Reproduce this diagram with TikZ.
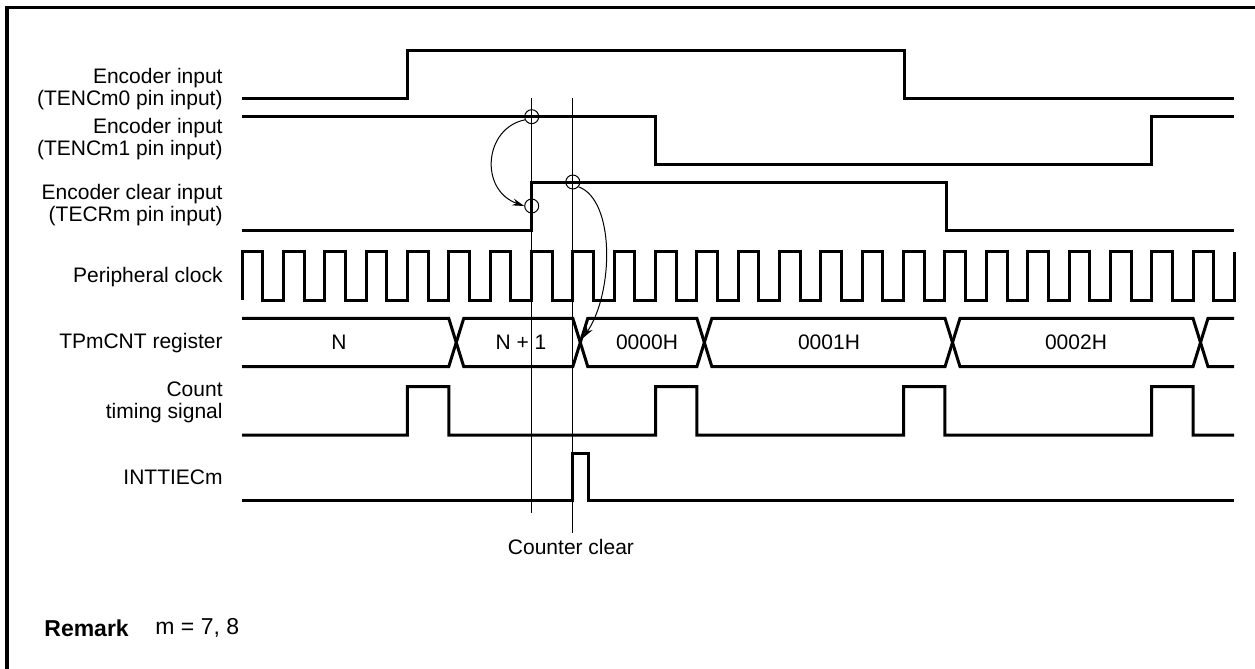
\documentclass[tikz,border=0pt]{standalone}
\usepackage{fontspec}
\setmainfont{Liberation Sans}
\usetikzlibrary{arrows.meta}

\begin{document}
\begin{tikzpicture}[x=0.5pt,y=-0.5pt,line join=miter,
  font=\fontsize{10.5}{11}\selectfont,
  wave/.style={line width=1.5pt},
  guide/.style={line width=0.5pt},
  ring/.style={circle,draw,line width=0.5pt,minimum size=7pt,inner sep=0pt},
  lbl/.style={anchor=east,align=right,inner sep=0pt},
  arr/.style={line width=0.5pt,-{Stealth[length=6pt,width=3.5pt]}}]
  \useasboundingbox (0,0) rectangle (1255,669);
  \draw[line width=1.8pt] (1255,7.5) -- (7,7.5) -- (7,669);

  \node[lbl] (l0) at (223,89.5) {Encoder input\\(TENCm0 pin input)};
  \node[lbl] (l1) at (223,139) {Encoder input\\(TENCm1 pin input)};
  \node[lbl] (l2) at (223,205) {Encoder clear input\\(TECRm pin input)};
  \node[lbl] (l3) at (223,277) {Peripheral clock};
  \node[lbl] (l4) at (223,343) {TPmCNT register};
  \node[lbl] (l5) at (223,402) {Count\\timing signal};
  \node[lbl] (l6) at (223,477) {INTTIECm};

  \draw[wave] (242,98) -- (407.4,98) -- (407.4,50) -- (904,50) -- (904,98) -- (1234,98);
  \draw[wave] (242,116.7) -- (655.5,116.7) -- (655.5,164.3) -- (1151,164.3) -- (1151,116.7) -- (1234,116.7);
  \draw[wave] (242,230) -- (531.7,230) -- (531.7,182) -- (946,182) -- (946,230) -- (1234,230);
  \draw[wave] (242,300) \foreach \k in {0,...,23} { -- ++(0,-48.3) -- ++(20.7,0) -- ++(0,48.3) -- ++(20.65,0) } -- ++(0,-48.3);
  \draw[wave] (242,318.3) -- (448.75,318.3) -- (463.75,366.7) -- (572.8,366.7) -- (587.8,318.3) -- (696.85,318.3) -- (711.85,366.7)
    -- (945,366.7) -- (960,318.3) -- (1193,318.3) -- (1208,366.7) -- (1234,366.7);
  \draw[wave] (242,366.7) -- (448.75,366.7) -- (463.75,318.3) -- (572.8,318.3) -- (587.8,366.7) -- (696.85,366.7) -- (711.85,318.3)
    -- (945,318.3) -- (960,366.7) -- (1193,366.7) -- (1208,318.3) -- (1234,318.3);
  \draw[wave] (242,435) \foreach \s in {407.4,655.5,903.6,1151.7} { -- (\s,435) -- (\s,386.7) -- ++(41.35,0) -- ++(0,48.3) } -- (1234,435);
  \draw[wave] (242,500.7) -- (572.8,500.7) -- (572.8,453.3) -- (588,453.3) -- (588,500.7) -- (1234,500.7);

  \node (vN) at (339,342.5) {N};
  \node (vN1) at (521,342.5) {N + 1};
  \node (v0) at (647,342.5) {0000H};
  \node (v1) at (829,342.5) {0001H};
  \node (v2) at (1076,342.5) {0002H};

  \draw[guide] (531.7,98) -- (531.7,513);
  \draw[guide] (572.8,98) -- (572.8,533);
  \node (cc) at (571,547) {Counter clear};

  \node[ring] (c1) at (531.7,116.7) {};
  \node[ring] (c2) at (531.7,206) {};
  \node[ring] (c3) at (572.8,182) {};
  \coordinate (clr) at (583,338);
  \draw[arr] (c1.205) .. controls (484,128) and (479,190) .. (c2.west);
  \draw[arr] (c3.-40) .. controls (615,200) and (614,292) .. (clr);

  \node[anchor=west,inner sep=0pt,font=\fontsize{11.5}{13}\selectfont\bfseries] (rm) at (44,628) {Remark};
  \node[anchor=west,inner sep=0pt,font=\fontsize{11.5}{13}\selectfont] (rmv) at (155,628) {m = 7, 8};
\end{tikzpicture}
\end{document}
